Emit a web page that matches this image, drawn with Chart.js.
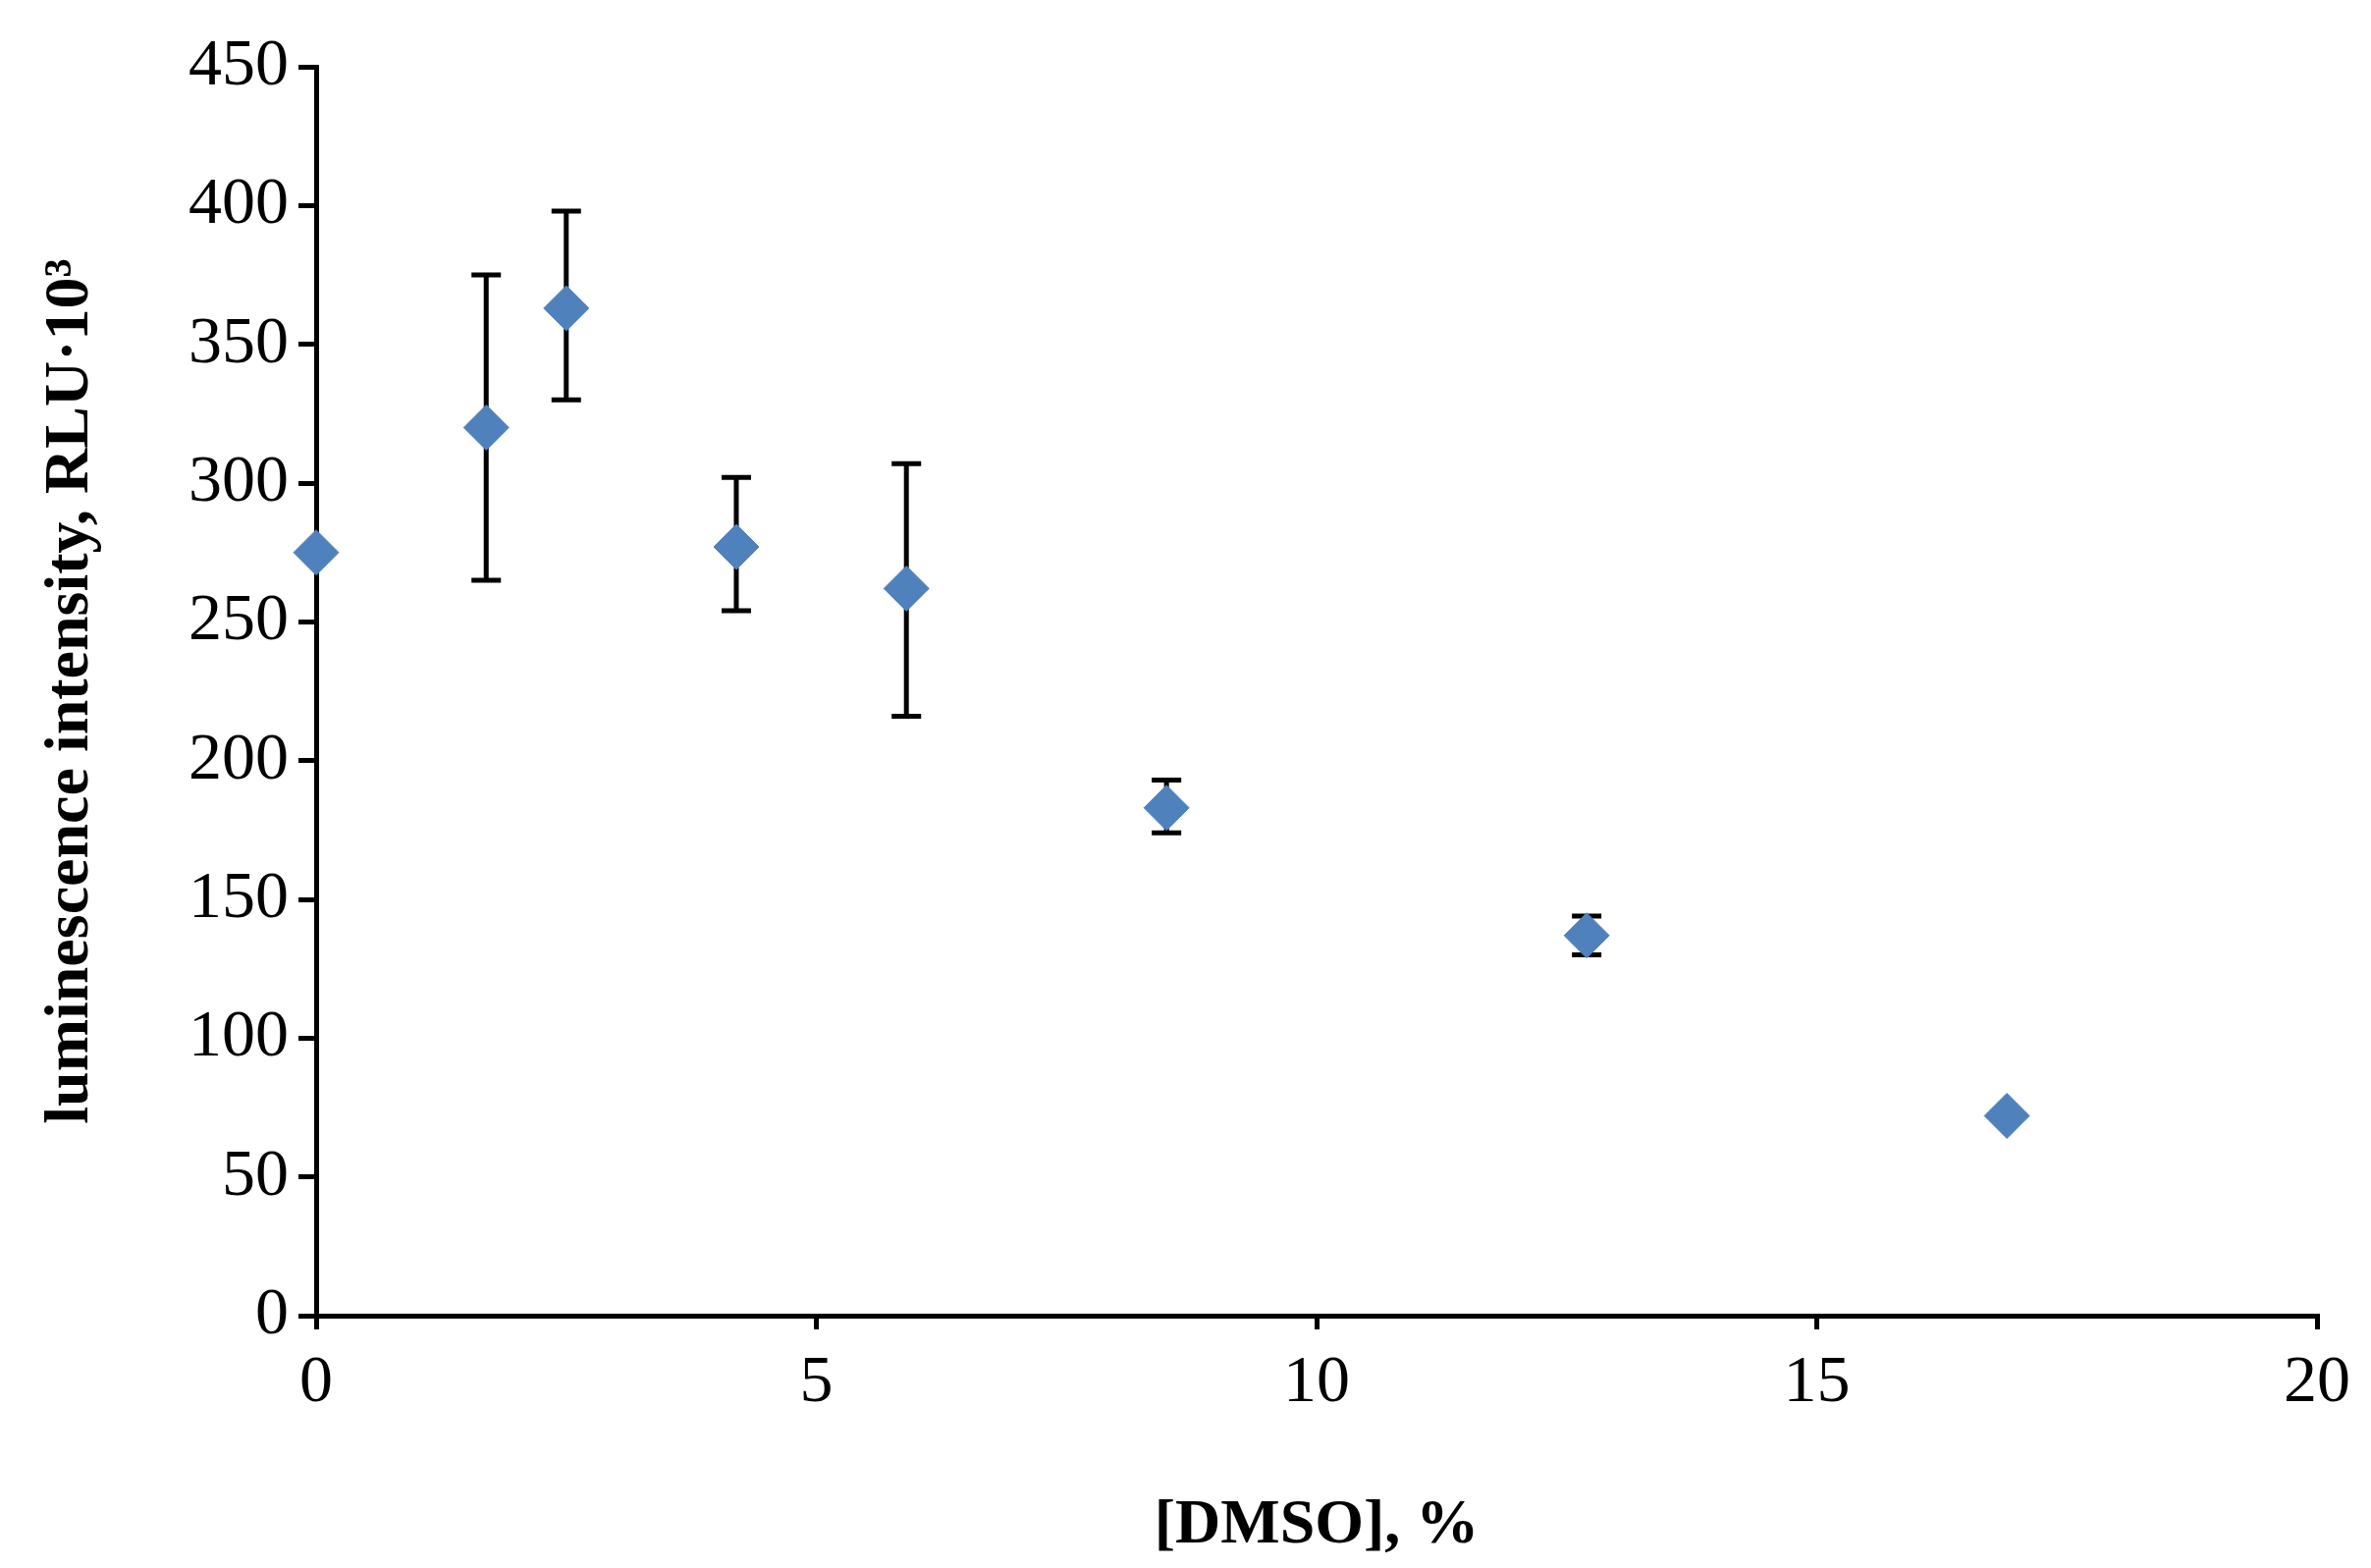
<!DOCTYPE html>
<html>
<head>
<meta charset="utf-8">
<script src="https://cdn.jsdelivr.net/npm/chart.js@4"></script>
<style>
  body { margin: 0; background: #fff; }
  #wrap { width: 2415px; height: 1597px; }
</style>
</head>
<body>
<div id="wrap"><canvas id="scatterChart"></canvas></div>
<script>
// data
const dmso = [0, 1.7, 2.5, 4.2, 5.9, 8.5, 12.7, 16.9];
const lum = [275, 320, 363, 277, 262, 183, 137, 72];
const errLow = [275, 265, 330, 254, 216, 174, 130, 72];
const errHigh = [275, 375, 398, 302, 307, 193, 144, 72];

const points = dmso.map((x, i) => ({ x: x, y: lum[i] }));

// error bars drawn behind the markers
const errorBars = {
    id: 'errorBars',
    beforeDatasetsDraw(chart) {
        const c = chart.ctx;
        const xs = chart.scales.x, ys = chart.scales.y;
        c.save();
        c.strokeStyle = '#000';
        c.lineWidth = 5;
        dmso.forEach((x, i) => {
            if (errHigh[i] === errLow[i]) return;
            const px = xs.getPixelForValue(x);
            const top = ys.getPixelForValue(errHigh[i]);
            const bot = ys.getPixelForValue(errLow[i]);
            c.beginPath();
            c.moveTo(px, top); c.lineTo(px, bot);
            c.moveTo(px - 15, top); c.lineTo(px + 15, top);
            c.moveTo(px - 15, bot); c.lineTo(px + 15, bot);
            c.stroke();
        });
        c.restore();
    }
};

var ctx = document.getElementById('scatterChart').getContext('2d');
var myChart = new Chart(ctx, {
    type: 'scatter',
    data: {
        datasets: [{
            data: points,
            clip: false,
            pointStyle: 'rectRot',
            pointRadius: 23,
            pointHoverRadius: 23,
            backgroundColor: '#4f81bd',
            borderColor: '#4f81bd',
            borderWidth: 1
        }]
    },
    options: {
        responsive: true,
        maintainAspectRatio: false,
        animation: false,
        layout: { padding: { top: 68, right: 55, left: 30, bottom: 0 } },
        plugins: { legend: { display: false }, tooltip: { enabled: false } },
        scales: {
            x: {
                type: 'linear',
                min: 0, max: 20,
                ticks: { stepSize: 5, color: '#000', padding: 14,
                    font: { family: 'Liberation Serif', size: 68 } },
                grid: { drawOnChartArea: false, tickLength: 14, color: '#000', lineWidth: 5 },
                border: { color: '#000', width: 5 },
                title: { display: true, text: '[DMSO], %', color: '#000', padding: { top: 10 },
                    font: { family: 'Liberation Serif', size: 64, weight: 'bold' } },
                afterFit(s) { s.height = 257; }
            },
            y: {
                min: 0, max: 450,
                ticks: { stepSize: 50, color: '#000', padding: 10,
                    font: { family: 'Liberation Serif', size: 68 } },
                grid: { drawOnChartArea: false, tickLength: 18, color: '#000', lineWidth: 5 },
                border: { color: '#000', width: 5 },
                title: { display: true, text: 'luminescence intensity, RLU·10³', color: '#000', padding: { bottom: 0 },
                    font: { family: 'Liberation Serif', size: 64, weight: 'bold' } },
                afterFit(s) { s.width = 292; }
            }
        }
    },
    plugins: [errorBars]
});
</script>
</body>
</html>
